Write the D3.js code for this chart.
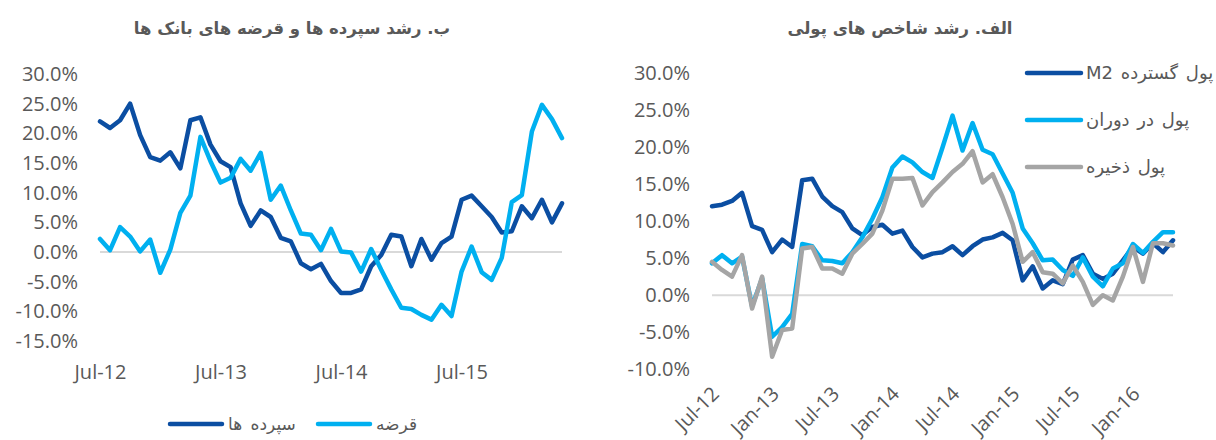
<!DOCTYPE html>
<html>
<head>
<meta charset="utf-8">
<script src="https://cdn.jsdelivr.net/npm/d3@7"></script>
<style>
  body { margin: 0; background: #fff; }
  svg { display: block; }
  .fa { font-family: "DejaVu Sans", sans-serif; }
</style>
</head>
<body>
<div id="chart"></div>
<script>
// months, Jul-12 .. May-16
var months = ["Jul-12","Aug-12","Sep-12","Oct-12","Nov-12","Dec-12",
  "Jan-13","Feb-13","Mar-13","Apr-13","May-13","Jun-13","Jul-13","Aug-13","Sep-13","Oct-13","Nov-13","Dec-13",
  "Jan-14","Feb-14","Mar-14","Apr-14","May-14","Jun-14","Jul-14","Aug-14","Sep-14","Oct-14","Nov-14","Dec-14",
  "Jan-15","Feb-15","Mar-15","Apr-15","May-15","Jun-15","Jul-15","Aug-15","Sep-15","Oct-15","Nov-15","Dec-15",
  "Jan-16","Feb-16","Mar-16","Apr-16","May-16"];

// panel b (left): deposits and loans growth, %
var deposits = [22.0,20.9,22.2,25.0,19.7,16.0,15.4,16.8,14.1,22.2,22.7,18.1,15.3,14.3,8.2,4.4,7.0,5.9,2.4,1.8,
  -1.9,-2.9,-2.0,-4.9,-6.9,-6.9,-6.3,-2.4,-0.5,2.9,2.6,-2.4,2.2,-1.3,1.5,2.6,8.8,9.5,7.7,5.9,3.3,3.5,7.7,5.7,8.8,5.0,8.2];
var loans = [2.2,0.3,4.2,2.6,0.1,2.1,-3.5,0.4,6.6,9.5,19.4,15.3,11.7,12.5,15.7,13.7,16.7,8.8,11.2,7.0,
  3.1,2.9,0.3,3.9,0.1,-0.1,-3.3,0.5,-3.0,-6.3,-9.4,-9.6,-10.6,-11.4,-8.9,-10.8,-3.3,0.9,-3.4,-4.7,-1.0,8.4,9.6,20.3,24.8,22.4,19.2];

// panel alef (right): monetary aggregates growth, %
var m2 = [12.0,12.2,12.7,13.8,9.3,8.8,5.8,7.5,6.5,15.5,15.7,13.3,12.0,11.2,9.0,8.1,9.2,9.5,8.3,8.7,
  6.5,5.1,5.6,5.8,6.6,5.4,6.6,7.5,7.8,8.4,7.4,2.0,3.9,0.9,2.0,1.5,4.8,5.4,2.9,2.2,2.9,4.7,6.5,5.6,7.0,5.8,7.4];
var currency = [4.3,5.4,4.3,5.2,-1.5,2.3,-5.6,-4.3,-2.5,6.9,6.6,4.7,4.6,4.3,5.8,7.8,10.3,13.2,17.2,18.7,
  17.9,16.6,15.8,19.9,24.2,19.5,23.2,19.6,19.0,16.4,13.8,9.0,7.0,4.7,4.8,3.4,2.6,5.1,2.5,1.2,3.6,4.3,6.9,5.7,7.2,8.5,8.5];
var reserve = [4.5,3.4,2.5,5.4,-1.8,2.5,-8.3,-4.7,-4.5,6.3,6.5,3.6,3.6,2.9,5.6,6.9,8.3,11.4,15.7,15.7,
  15.8,12.1,13.9,15.2,16.6,17.7,19.4,15.2,16.3,13.2,9.6,4.5,5.8,3.1,2.9,1.6,4.0,1.8,-1.3,0.0,-0.7,2.5,6.5,1.8,7.0,7.0,6.7];

var leftTicksY = [-15,-10,-5,0,5,10,15,20,25,30];
var rightTicksY = [-10,-5,0,5,10,15,20,25,30];
var leftTicksX = ["Jul-12","Jul-13","Jul-14","Jul-15"];
var rightTicksX = ["Jul-12","Jan-13","Jul-13","Jan-14","Jul-14","Jan-15","Jul-15","Jan-16"];

var titleLeft = "ب. رشد سپرده ها و قرضه های بانک ها";
var titleRight = "الف. رشد شاخص های پولی";
var leftSeries = [
  {name: "سپرده ها", values: deposits, color: "#0b4ea2"},
  {name: "قرضه", values: loans, color: "#00b0f0"}
];
var rightSeries = [
  {name: "پول گسترده M2", values: m2, color: "#0b4ea2"},
  {name: "پول در دوران", values: currency, color: "#00b0f0"},
  {name: "پول ذخیره", values: reserve, color: "#a5a5a5"}
];

var textColor = "#595959";
var pct = function (v) { return v.toFixed(1) + "%"; };

var svg = d3.select("#chart")
  .append("svg")
  .attr("width", 1216)
  .attr("height", 440);

// ---------- left panel ----------
var xL = d3.scalePoint().domain(months).range([100, 562]);
var yL = d3.scaleLinear().domain([-15, 30]).range([341, 74]);

svg.append("text")
  .attr("class", "fa")
  .attr("x", 292).attr("y", 34)
  .attr("text-anchor", "middle")
  .attr("direction", "rtl")
  .style("font-size", "16.5px").style("font-weight", "bold")
  .style("fill", textColor)
  .text(titleLeft);

var axL = svg.append("g")
  .attr("transform", "translate(78,0)")
  .call(d3.axisLeft(yL).tickValues(leftTicksY).tickFormat(pct).tickSize(0).tickPadding(0));
axL.select(".domain").remove();

svg.append("line")
  .attr("x1", xL.range()[0]).attr("x2", xL.range()[1])
  .attr("y1", yL(0)).attr("y2", yL(0))
  .attr("stroke", "#d9d9d9").attr("stroke-width", 2);

var axLX = svg.append("g")
  .attr("transform", "translate(0,365)")
  .call(d3.axisBottom(xL).tickValues(leftTicksX).tickSize(0).tickPadding(0));
axLX.select(".domain").remove();

var lineL = d3.line()
  .x(function (d, i) { return xL(months[i]); })
  .y(function (d) { return yL(d); });

svg.append("g")
  .selectAll("path")
  .data(leftSeries)
  .enter()
  .append("path")
  .attr("d", function (d) { return lineL(d.values); })
  .attr("fill", "none")
  .attr("stroke", function (d) { return d.color; })
  .attr("stroke-width", 4.5)
  .attr("stroke-linejoin", "round")
  .attr("stroke-linecap", "round");

// legend under left panel
var legL = svg.append("g").selectAll("g")
  .data(leftSeries)
  .enter()
  .append("g")
  .attr("transform", function (d, i) { return "translate(" + (170 + i * 148) + ",424)"; });
legL.append("line")
  .attr("x1", 0).attr("x2", 52)
  .attr("stroke", function (d) { return d.color; })
  .attr("stroke-width", 4.5)
  .attr("stroke-linecap", "round");
legL.append("text")
  .attr("class", "fa")
  .attr("x", 58).attr("dy", "0.35em")
  .attr("direction", "rtl")
  .attr("text-anchor", "end")
  .style("font-size", "17px")
  .style("word-spacing", "3px")
  .style("fill", textColor)
  .text(function (d) { return d.name; });

// ---------- right panel ----------
var xR = d3.scalePoint().domain(months).range([712, 1173]);
var yR = d3.scaleLinear().domain([-10, 30]).range([369.4, 72.6]);

svg.append("text")
  .attr("class", "fa")
  .attr("x", 900).attr("y", 34)
  .attr("text-anchor", "middle")
  .attr("direction", "rtl")
  .style("font-size", "16.5px").style("font-weight", "bold")
  .style("fill", textColor)
  .text(titleRight);

var axR = svg.append("g")
  .attr("transform", "translate(690,0)")
  .call(d3.axisLeft(yR).tickValues(rightTicksY).tickFormat(pct).tickSize(0).tickPadding(0));
axR.select(".domain").remove();

svg.append("line")
  .attr("x1", xR.range()[0]).attr("x2", xR.range()[1])
  .attr("y1", yR(0)).attr("y2", yR(0))
  .attr("stroke", "#d9d9d9").attr("stroke-width", 2);

var axRX = svg.append("g")
  .attr("transform", "translate(0,393)")
  .call(d3.axisBottom(xR).tickValues(rightTicksX).tickSize(0).tickPadding(0));
axRX.select(".domain").remove();
axRX.selectAll("text")
  .attr("y", 0).attr("dy", "0.35em")
  .attr("x", 4)
  .attr("text-anchor", "end")
  .attr("transform", "rotate(-45)");

var lineR = d3.line()
  .x(function (d, i) { return xR(months[i]); })
  .y(function (d) { return yR(d); });

svg.append("g")
  .selectAll("path")
  .data(rightSeries)
  .enter()
  .append("path")
  .attr("d", function (d) { return lineR(d.values); })
  .attr("fill", "none")
  .attr("stroke", function (d) { return d.color; })
  .attr("stroke-width", 4.5)
  .attr("stroke-linejoin", "round")
  .attr("stroke-linecap", "round");

// legend inside right panel
var legR = svg.append("g").selectAll("g")
  .data(rightSeries)
  .enter()
  .append("g")
  .attr("transform", function (d, i) { return "translate(1027," + (73 + i * 47) + ")"; });
legR.append("line")
  .attr("x1", 0).attr("x2", 54)
  .attr("stroke", function (d) { return d.color; })
  .attr("stroke-width", 4.5)
  .attr("stroke-linecap", "round");
legR.append("text")
  .attr("class", "fa")
  .attr("x", 59).attr("dy", "0.35em")
  .attr("direction", "rtl")
  .attr("text-anchor", "end")
  .style("font-size", "18px")
  .style("word-spacing", "2px")
  .style("fill", textColor)
  .text(function (d) { return d.name; });

// shared tick label style
svg.selectAll(".tick text")
  .style("font-family", "'Open Sans', 'Noto Sans', sans-serif")
  .style("font-size", "20px")
  .style("fill", textColor);
</script>
</body>
</html>
